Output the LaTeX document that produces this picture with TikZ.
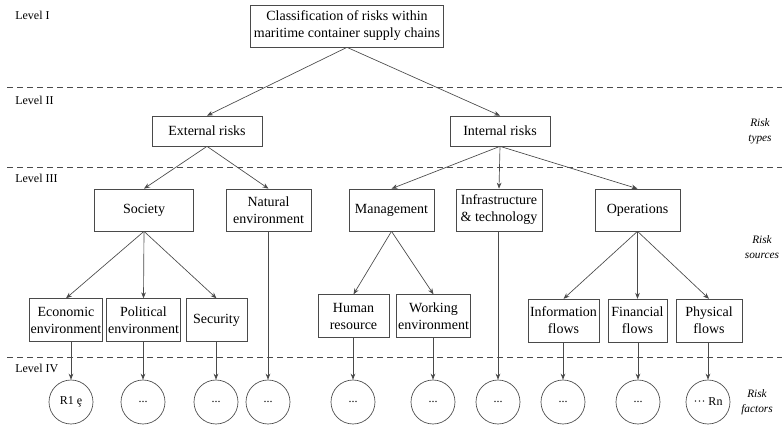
\documentclass[tikz,border=0pt]{standalone}
\usepackage{fontspec}
\setmainfont{Liberation Serif}
\usetikzlibrary{arrows.meta}
\definecolor{linegray}{HTML}{4A4A4A}

\begin{document}
\begin{tikzpicture}[x=0.75pt, y=-0.75pt,
  box/.style={draw=linegray, minimum height=31.5pt, inner sep=1pt, align=center, font=\fontsize{10.5}{12.75}\selectfont},
  small/.style={box, minimum height=22.5pt},
  leaf/.style={box, minimum height=32pt},
  factor/.style={draw=linegray, circle, minimum size=33pt, inner sep=0pt, font=\fontsize{9}{10}\selectfont},
  lvl/.style={anchor=west, inner sep=0pt, font=\fontsize{9}{10}\selectfont},
  kind/.style={align=center, inner sep=0pt, font=\fontsize{8.5}{11}\selectfont\itshape},
  sep/.style={draw=linegray, dash pattern=on 4.5pt off 3pt},
  >={Stealth[length=4.5pt, width=3.5pt]}, line width=0.5pt]
  \useasboundingbox (0,0) rectangle (782,425);

  % level bands
  \draw[sep] (7,87) -- (782,87);
  \draw[sep] (7,167) -- (782,167);
  \draw[sep] (7,357) -- (782,357);
  \node[lvl] (lv1) at (15,15) {Level I};
  \node[lvl] (lv2) at (15,100) {Level II};
  \node[lvl] (lv3) at (15,178) {Level III};
  \node[lvl] (lv4) at (15,368) {Level IV};
  \node[kind] (types) at (760,131) {Risk\\types};
  \node[kind] (sources) at (762,247) {Risk\\sources};
  \node[kind] (factors) at (757,402) {Risk\\factors};

  \node[box, minimum width=145pt] (root) at (347,26) {Classification of risks within\\maritime container supply chains};
  \node[small, minimum width=82.5pt] (ext) at (207,131) {External risks};
  \node[small, minimum width=75pt] (int) at (500,131) {Internal risks};

  \node[box, minimum width=74pt] (soc) at (144,210) {Society};
  \node[box, minimum width=64pt] (nat) at (268.5,210) {Natural\\environment};
  \node[box, minimum width=64pt] (mgmt) at (391.5,210) {Management};
  \node[box, minimum width=64.5pt] (infra) at (499,210) {Infrastructure\\\& technology};
  \node[box, minimum width=64pt] (ops) at (637.5,210) {Operations};

  \node[leaf, minimum width=54pt] (econ) at (66,320) {Economic\\environment};
  \node[leaf, minimum width=53pt] (pol) at (143.5,320) {Political\\environment};
  \node[leaf, minimum width=46pt] (sec) at (216.5,320) {Security};
  \node[leaf, minimum width=53pt] (hum) at (353.5,316) {Human\\resource};
  \node[leaf, minimum width=53pt] (work) at (433.5,316) {Working\\environment};
  \node[leaf, minimum width=53pt] (info) at (563.5,320.5) {Information\\flows};
  \node[leaf, minimum width=44pt] (fin) at (637.5,320.5) {Financial\\flows};
  \node[leaf, minimum width=49.5pt] (phys) at (709,320.5) {Physical\\flows};

  \node[factor] (f1) at (71,402) {R1 ȩ};
  \node[factor] (f2) at (143,402) {...};
  \node[factor] (f3) at (216,402) {...};
  \node[factor] (f4) at (268,402) {...};
  \node[factor] (f5) at (353,402) {...};
  \node[factor] (f6) at (433,402) {...};
  \node[factor] (f7) at (498,402) {...};
  \node[factor] (f8) at (563,402) {...};
  \node[factor] (f9) at (638,402) {...};
  \node[factor] (f10) at (708,402) {··· Rn};

  \begin{scope}[draw=linegray]
    \draw[->] (root.south) -- (ext.north);
    \draw[->] (root.south) -- (int.north);
    \draw[->] (ext.south) -- (soc.north);
    \draw[->] (ext.south) -- (nat.north);
    \draw[->] (int.south) -- (mgmt.north);
    \draw[->] (int.south) -- (infra.north);
    \draw[->] (int.south) -- (ops.north);
    \draw[->] (soc.south) -- (econ.north);
    \draw[->] (soc.south) -- (pol.north);
    \draw[->] (soc.south) -- (sec.north);
    \draw[->] (mgmt.south) -- (hum.north);
    \draw[->] (mgmt.south) -- (work.north);
    \draw[->] (ops.south) -- (info.north);
    \draw[->] (ops.south) -- (fin.north);
    \draw[->] (ops.south) -- (phys.north);

    % down to the risk factors
    \draw[->] (econ.south -| f1) -- (f1);
    \draw[->] (pol.south -| f2) -- (f2);
    \draw[->] (sec.south -| f3) -- (f3);
    \draw[->] (nat.south -| f4) -- (f4);
    \draw[->] (hum.south -| f5) -- (f5);
    \draw[->] (work.south -| f6) -- (f6);
    \draw[->] (infra.south -| f7) -- (f7);
    \draw[->] (info.south -| f8) -- (f8);
    \draw[->] (fin.south -| f9) -- (f9);
    \draw[->] (phys.south -| f10) -- (f10);
  \end{scope}
\end{tikzpicture}
\end{document}
